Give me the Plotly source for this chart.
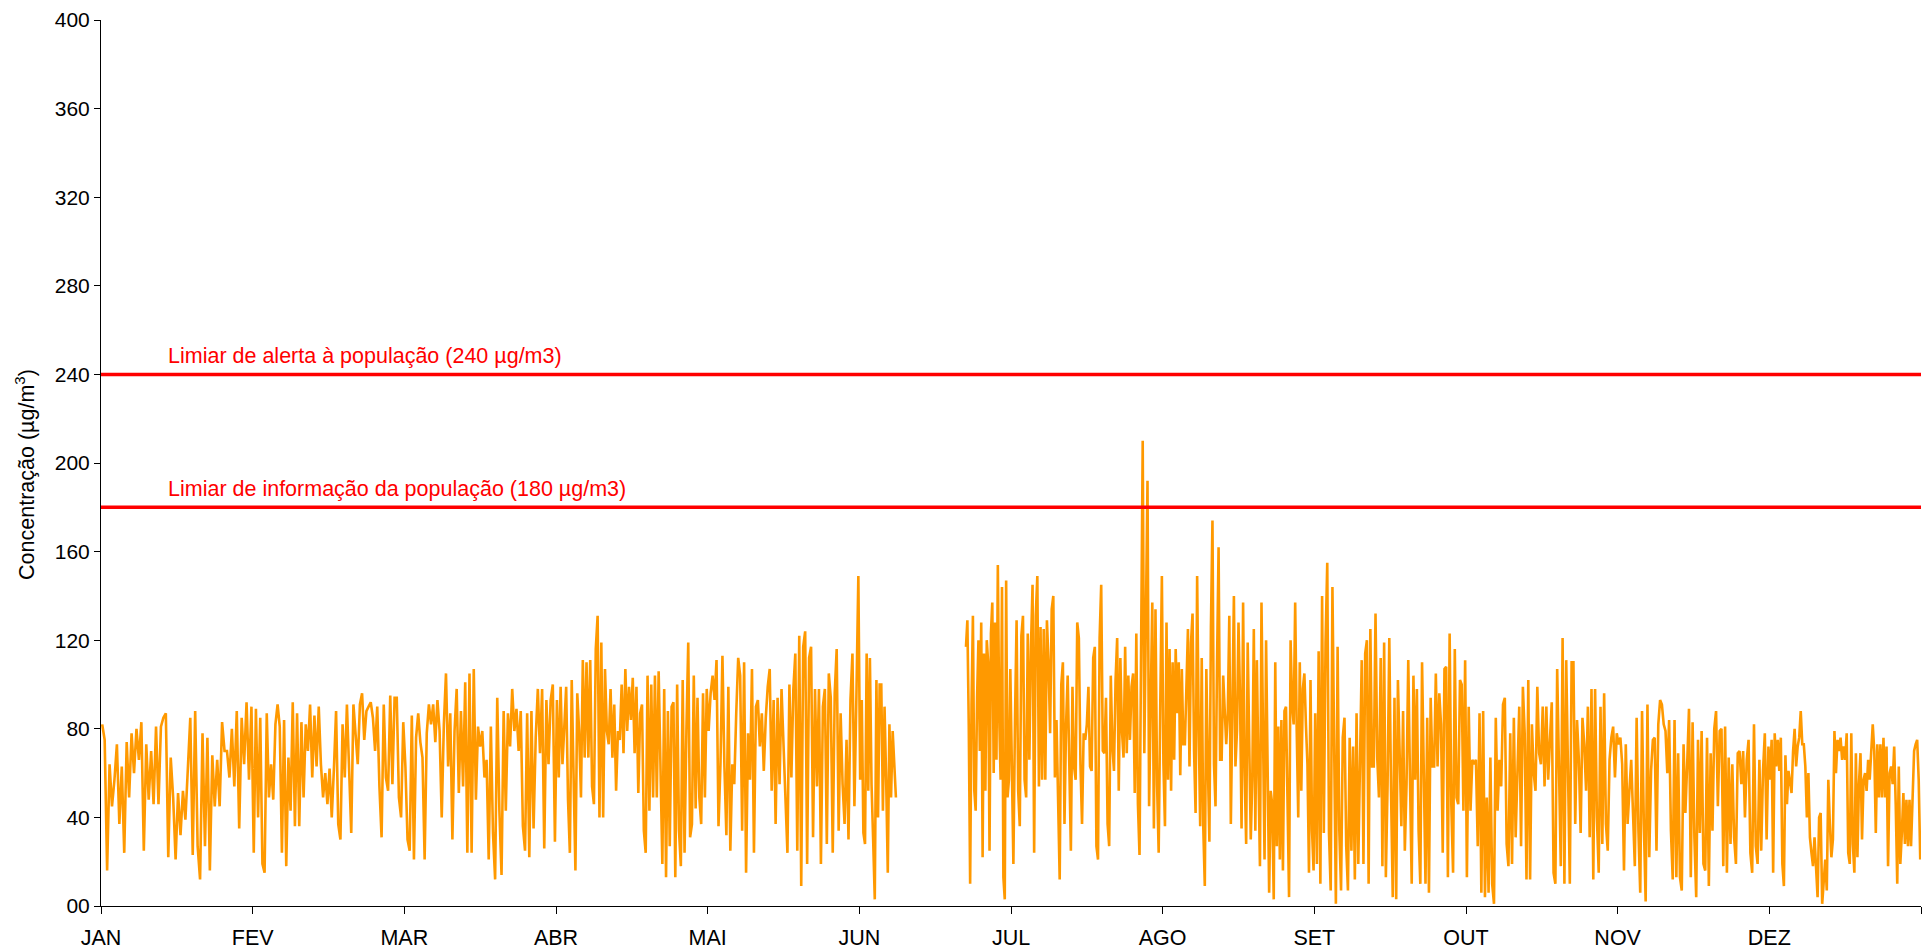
import plotly.graph_objects as go

# Monthly labels on the time axis (equal 730-hour intervals)
months = ["JAN", "FEV", "MAR", "ABR", "MAI", "JUN", "JUL", "AGO", "SET", "OUT", "NOV", "DEZ"]
HOURS_PER_MONTH = 730

# O3 concentration (µg/m3): successive highs and lows through each month
o3_jan = [82, 75, 16, 64, 45, 57, 73, 37, 63, 24, 74, 49, 78, 60, 80, 66, 83, 25, 73, 48, 70, 46, 81, 46, 81, 85, 87, 22, 67, 49, 21, 51, 32, 52, 39, 64, 85, 23, 88, 27, 12, 78, 27, 76, 16, 68, 45, 66, 45, 83, 70, 70, 58, 80, 54, 88, 35, 85, 64, 92, 57, 90]
o3_fev = [24, 89, 40, 85, 19, 15, 87, 49, 64, 48, 82, 91, 81, 24, 84, 18, 67, 43, 92, 36, 87, 36, 83, 49, 82, 70, 91, 58, 86, 63, 90, 64, 49, 60, 46, 62, 40, 62, 88, 37, 30, 82, 58, 91, 61, 33, 91, 79, 64, 91, 96, 75, 88, 90, 92, 85, 70, 90, 54, 31, 91, 58, 52, 95, 55, 94, 94, 49, 40, 83]
o3_mar = [63, 30, 25, 86, 21, 76, 87, 74, 67, 21, 78, 91, 82, 91, 74, 93, 79, 40, 82, 105, 63, 87, 30, 79, 98, 51, 88, 54, 101, 24, 105, 24, 107, 48, 81, 72, 79, 58, 66, 21, 81, 33, 12, 94, 43, 14, 88, 43, 87, 72, 98, 79, 89, 70, 88, 36, 25, 87, 22, 88, 35, 76, 98, 69, 98, 26, 93, 64, 93, 100, 29]
o3_abr = [93, 58, 99, 64, 81, 99, 48, 24, 102, 55, 16, 96, 79, 49, 111, 67, 110, 67, 111, 54, 46, 116, 131, 40, 119, 40, 107, 79, 73, 98, 67, 91, 52, 79, 75, 100, 69, 107, 79, 99, 84, 103, 69, 99, 51, 87, 91, 34, 24, 104, 43, 100, 49, 104, 49, 106, 64, 19, 98, 13, 88, 27, 90, 92, 13, 100, 34, 18, 102, 24, 79, 119, 31, 37, 104, 44, 94, 49, 37, 96, 49, 98]
o3_mai = [79, 96, 104, 93, 111, 36, 64, 113, 63, 32, 99, 25, 64, 55, 87, 112, 104, 34, 110, 15, 78, 57, 107, 24, 90, 93, 72, 87, 61, 85, 99, 107, 52, 93, 37, 94, 55, 98, 73, 45, 24, 100, 58, 98, 114, 25, 122, 9, 117, 124, 19, 112, 117, 31, 98, 54, 98, 19, 90, 98, 28, 105, 94, 24, 96, 116, 34, 87, 55, 37, 75, 30, 93, 114, 45, 94, 149]
o3_jun_a = [57, 93, 33, 28, 114, 52, 112, 55, 30, 3, 102, 40, 100, 100, 43, 90, 57, 15, 82, 49, 79, 60, 49]
o3_jun_b = [117, 129, 82, 10, 91, 131, 52, 43, 94, 120, 70, 128, 22, 114, 52, 120, 110, 25, 123, 137, 60, 128, 66, 154, 85, 57, 144, 13, 3, 147, 49, 57, 107]
o3_jul = [54, 19, 84, 129, 52, 36, 122, 131, 57, 49, 123, 66, 117, 145, 24, 131, 149, 54, 126, 57, 125, 57, 129, 110, 78, 134, 140, 58, 84, 37, 12, 100, 110, 37, 82, 104, 63, 25, 99, 63, 57, 128, 121, 64, 37, 78, 75, 82, 99, 63, 61, 112, 117, 27, 21, 121, 145, 70, 69, 94, 37, 27, 104, 72, 61, 102, 121, 52, 112, 79, 67, 117, 69, 104, 75, 99, 105, 51, 123, 46, 23, 137, 210, 69, 131, 192, 45, 91, 137, 35, 134, 55, 24, 91, 149]
o3_ago = [64, 36, 128, 57, 116, 52, 110, 66, 116, 87, 110, 59, 107, 73, 73, 102, 125, 63, 119, 132, 70, 42, 149, 82, 36, 112, 36, 9, 107, 64, 29, 126, 174, 64, 45, 110, 162, 66, 66, 104, 88, 73, 87, 131, 37, 98, 140, 63, 79, 128, 94, 35, 137, 61, 28, 119, 64, 30, 57, 125, 34, 111, 61, 18, 137, 79, 21, 120, 49, 6, 52, 46, 3, 110, 27, 81, 21, 84, 16, 88, 90, 39, 4, 120, 91, 82, 137, 79, 40, 110, 52, 98, 105, 82, 64, 15, 102, 34, 16]
o3_set = [87, 19, 115, 10, 140, 33, 119, 155, 33, 7, 144, 57, 1, 117, 34, 7, 76, 85, 27, 7, 76, 25, 72, 12, 87, 19, 64, 111, 19, 114, 120, 10, 125, 63, 63, 132, 67, 49, 112, 18, 119, 13, 55, 121, 52, 4, 94, 3, 102, 60, 36, 88, 25, 55, 111, 57, 10, 104, 57, 98, 34, 10, 110, 61, 10, 85, 6, 94, 63, 63, 105, 63, 96, 82, 24, 107, 108, 13, 123, 45, 15, 116, 49, 46, 102, 100, 43, 111]
o3_out = [13, 90, 43, 66, 64, 66, 27, 87, 6, 88, 4, 49, 6, 67, 10, 1, 85, 43, 66, 54, 91, 94, 28, 18, 78, 19, 85, 31, 64, 90, 27, 99, 78, 12, 102, 12, 82, 60, 52, 99, 69, 64, 90, 54, 90, 57, 75, 92, 15, 10, 107, 64, 18, 121, 10, 111, 58, 10, 110, 110, 37, 84, 66, 33, 85, 73, 52, 90, 31, 98, 12, 98, 40, 15, 90, 28, 96, 37, 25, 66, 76, 81, 58, 78]
o3_nov = [73, 76, 64, 16, 73, 37, 52, 66, 42, 18, 85, 34, 6, 88, 37, 2, 91, 22, 61, 75, 76, 25, 82, 93, 91, 82, 79, 60, 84, 34, 12, 84, 13, 69, 13, 7, 73, 42, 64, 89, 13, 83, 31, 4, 75, 33, 79, 19, 16, 76, 9, 69, 34, 80, 88, 45, 79, 80, 18, 81, 15, 67, 28, 64, 31, 19, 69, 70, 55, 70, 40, 66, 75, 24, 15, 82, 27, 19, 66, 25, 61, 78, 30, 72]
o3_dez = [57, 75, 15, 78, 63, 75, 61, 76, 19, 9, 68, 46, 61, 55, 51, 70, 80, 63, 72, 76, 88, 73, 73, 63, 40, 60, 31, 24, 18, 31, 19, 4, 40, 42, 1, 12, 21, 7, 57, 37, 22, 30, 79, 60, 75, 70, 76, 66, 72, 66, 78, 24, 19, 78, 28, 15, 69, 22, 55, 69, 30, 57, 60, 52, 66, 57, 72, 82, 70, 33, 73, 49, 73, 49, 76, 49, 72, 18, 60, 63, 55, 72, 46, 10, 63, 19, 33, 51, 28, 48, 27, 48, 27, 51, 70, 73, 75, 57, 21]

# June has no data between these hours (counted from the start of June)
jun_missing = (180, 510)

# Legal thresholds (µg/m3)
limiar_info = 180
limiar_alerta = 240


def spread(values, start, end):
    """Place readings evenly over the [start, end) hour span."""
    step = (end - start) / len(values)
    return [start + (i + 0.5) * step for i in range(len(values))]


xs, ys = [], []
monthly = [o3_jan, o3_fev, o3_mar, o3_abr, o3_mai, None,
           o3_jul, o3_ago, o3_set, o3_out, o3_nov, o3_dez]
for m, vals in enumerate(monthly):
    m0 = m * HOURS_PER_MONTH
    if vals is None:
        xs += spread(o3_jun_a, m0, m0 + jun_missing[0])
        ys += o3_jun_a
        xs.append(m0 + (jun_missing[0] + jun_missing[1]) / 2)
        ys.append(None)
        xs += spread(o3_jun_b, m0 + jun_missing[1], m0 + HOURS_PER_MONTH)
        ys += o3_jun_b
    else:
        xs += spread(vals, m0, m0 + HOURS_PER_MONTH)
        ys += vals

FONT = "Liberation Sans, Arial, Helvetica, sans-serif"
year_hours = 12 * HOURS_PER_MONTH

fig = go.Figure()
fig.add_trace(go.Scatter(
    x=xs, y=ys, mode="lines",
    line=dict(color="#FF9900", width=2.6),
    connectgaps=False, hoverinfo="skip", showlegend=False,
))

for level, text in [
    (limiar_info, f"Limiar de informação da população ({limiar_info} µg/m3)"),
    (limiar_alerta, f"Limiar de alerta à população ({limiar_alerta} µg/m3)"),
]:
    fig.add_trace(go.Scatter(
        x=[0, year_hours], y=[level, level], mode="lines",
        line=dict(color="#FF0000", width=3.5),
        hoverinfo="skip", showlegend=False,
    ))
    fig.add_annotation(
        x=0.0357, xref="paper", y=level, yref="y",
        text=text, showarrow=False, xanchor="left", yanchor="bottom",
        yshift=4, font=dict(family=FONT, size=21.5, color="#FF0000"),
    )

y_ticks = list(range(0, 401, 40))
fig.update_yaxes(
    range=[0, 400], tickvals=y_ticks,
    ticktext=["00"] + [str(v) for v in y_ticks[1:]],
    showline=True, linecolor="#000000", linewidth=1,
    ticks="outside", ticklen=6, tickcolor="#000000",
    showgrid=False, zeroline=False, automargin=False,
    tickfont=dict(family=FONT, size=21, color="#000000"),
)
fig.update_xaxes(
    range=[0, year_hours],
    tickvals=[i * HOURS_PER_MONTH for i in range(12)],
    ticktext=months,
    showline=True, linecolor="#000000", linewidth=1,
    ticks="outside", ticklen=7, tickcolor="#000000",
    ticklabelstandoff=5,
    minor=dict(tickvals=[year_hours], ticks="outside", ticklen=7,
               tickcolor="#000000", showgrid=False),
    showgrid=False, zeroline=False, automargin=False,
    tickfont=dict(family=FONT, size=21.5, color="#000000"),
)

fig.add_annotation(
    x=-0.0418, xref="paper", y=0.4876, yref="paper",
    text="Concentração (µg/m<sup>3</sup>)", textangle=-90,
    showarrow=False, xanchor="center", yanchor="middle",
    font=dict(family=FONT, size=21.5, color="#000000"),
)

fig.update_layout(
    width=1930, height=949,
    margin=dict(l=101, r=9, t=20, b=43, autoexpand=False),
    paper_bgcolor="#FFFFFF", plot_bgcolor="#FFFFFF",
)

fig.write_html("out.html")
